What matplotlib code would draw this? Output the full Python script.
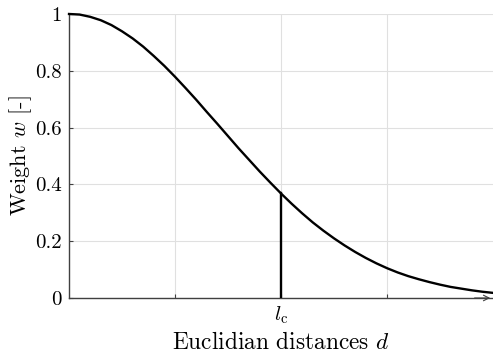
import matplotlib
matplotlib.use("Agg")
import matplotlib.pyplot as plt

plt.rcParams['mathtext.fontset'] = 'cm'
plt.rcParams['font.family'] = 'cmr10'
plt.rcParams['axes.formatter.use_mathtext'] = True

# distance in units of l_c, weight
d = [0.00, 0.05, 0.10, 0.15, 0.20, 0.25, 0.30, 0.35, 0.40, 0.45,
     0.50, 0.55, 0.60, 0.65, 0.70, 0.75, 0.80, 0.85, 0.90, 0.95,
     1.00, 1.05, 1.10, 1.15, 1.20, 1.25, 1.30, 1.35, 1.40, 1.45,
     1.50, 1.55, 1.60, 1.65, 1.70, 1.75, 1.80, 1.85, 1.90, 1.95, 2.00]
w = [1.000, 0.998, 0.990, 0.978, 0.961, 0.939, 0.914, 0.885, 0.852, 0.817,
     0.779, 0.739, 0.698, 0.655, 0.613, 0.570, 0.527, 0.486, 0.445, 0.406,
     0.368, 0.332, 0.298, 0.266, 0.237, 0.210, 0.185, 0.162, 0.141, 0.122,
     0.105, 0.090, 0.077, 0.066, 0.056, 0.047, 0.039, 0.033, 0.027, 0.022, 0.018]
lc = 1.0
w_lc = 0.368

xticks = [0.5, 1.0, 1.5]
xticklabels = ['', r'$l_\mathrm{c}$', '']
yticks = [0, 0.2, 0.4, 0.6, 0.8, 1.0]
yticklabels = ['0', '0.2', '0.4', '0.6', '0.8', '1']

fig = plt.figure(figsize=(4.93, 3.55), dpi=100)
ax = fig.add_axes([0.140, 0.1606, 0.860, 0.800])

ax.plot(d, w, color='black', lw=1.7, clip_on=False, zorder=3)
ax.plot([lc, lc], [0, w_lc], color='black', lw=1.7, zorder=3)

ax.set_xlim(0, 2)
ax.set_ylim(0, 1)
ax.set_xticks(xticks)
ax.set_xticklabels(xticklabels, fontsize=15)
ax.set_yticks(yticks)
ax.set_yticklabels(yticklabels, fontsize=15)
ax.tick_params(direction='in', length=3, width=0.8, color='#404040', pad=5)
ax.grid(True, color='#e0e0e0', lw=0.8)
ax.set_axisbelow(True)

for s in ['top', 'right']:
    ax.spines[s].set_visible(False)
for s in ['left', 'bottom']:
    ax.spines[s].set_color('#404040')
    ax.spines[s].set_linewidth(1.0)

ax.annotate('', xy=(2.0, 0), xytext=(1.9, 0),
            arrowprops=dict(arrowstyle='->', color='#404040', lw=0.8),
            annotation_clip=False)

ax.set_xlabel('Euclidian distances $d$', fontsize=16.8, labelpad=4)
ax.set_ylabel('Weight $w$ [-]', fontsize=16, va='center')
ax.yaxis.set_label_coords(-0.115, 0.5)

fig.savefig('out.png', dpi=100)
